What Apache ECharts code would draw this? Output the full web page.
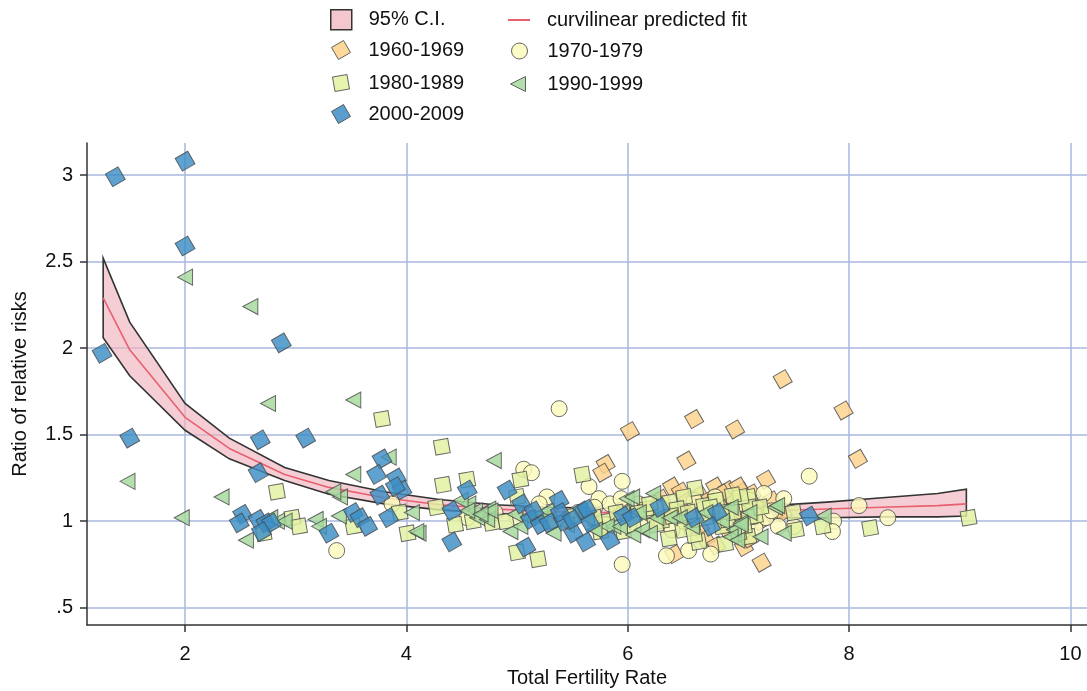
<!DOCTYPE html>
<html>
<head>
<meta charset="utf-8">
<script src="https://cdn.jsdelivr.net/npm/echarts@6/dist/echarts.min.js"></script>
<style>html,body{margin:0;padding:0;background:#fff}#c{width:1087px;height:691px}</style>
</head>
<body>
<div id="c"></div>
<script>
// ---- data ----
const xTicks = [2, 4, 6, 8, 10];
const yTicks = [0.5, 1, 1.5, 2, 2.5, 3];

const ciX  = [1.26, 1.5, 2.0, 2.4, 2.9, 3.3, 3.8, 4.3, 4.8, 5.3, 5.8, 6.3, 6.8, 7.3, 7.8, 8.3, 8.8, 9.06];
const ciHi = [2.52, 2.15, 1.68, 1.48, 1.31, 1.235, 1.17, 1.125, 1.095, 1.08, 1.075, 1.075, 1.08, 1.09, 1.11, 1.135, 1.16, 1.185];
const fitY = [2.29, 1.99, 1.60, 1.42, 1.27, 1.195, 1.135, 1.095, 1.07, 1.055, 1.05, 1.05, 1.055, 1.06, 1.07, 1.08, 1.09, 1.10];
const ciLo = [2.06, 1.84, 1.525, 1.36, 1.235, 1.155, 1.10, 1.065, 1.045, 1.03, 1.025, 1.02, 1.02, 1.02, 1.02, 1.025, 1.025, 1.03];

const s1960 = [[7.40,1.82],[7.95,1.64],[8.08,1.36],[6.97,1.53],[7.25,1.24],[7.21,0.76],[6.79,1.20],[6.90,1.18],[7.03,1.17],[7.12,1.16],[7.05,0.85],[6.60,1.59],[6.53,1.35],[6.02,1.52],[6.40,1.20],[6.42,0.81],[6.48,1.17],[5.80,1.33],[5.77,1.28],[6.60,1.10],[6.85,1.08],[7.00,1.03],[7.30,1.12],[6.30,1.13],[6.70,0.90],[7.10,0.90],[7.32,1.05],[6.95,1.12],[6.65,1.15],
  [6.45,1.05],[6.55,1.12],[6.75,1.13],[6.85,1.16],[7.00,1.20],[7.15,1.10],[6.35,1.02],[6.90,0.95],[7.20,1.00],[6.65,0.97],[7.05,1.07],[6.25,1.08],[5.95,1.07],[7.40,1.05],[6.80,0.86]];
const s1970 = [[5.38,1.65],[5.06,1.30],[5.13,1.28],[5.27,1.14],[5.65,1.20],[5.74,1.13],[5.84,1.10],[5.95,1.23],[5.94,1.13],[5.95,0.75],[3.87,1.10],[6.35,0.80],[6.55,0.83],[6.75,0.81],[3.37,0.83],[7.23,1.16],[7.15,0.96],[6.79,1.14],[7.64,1.26],[8.09,1.09],[8.35,1.02],[7.86,1.00],[7.85,0.94],[7.41,1.13],[7.50,0.97],[7.36,0.97],[5.00,1.02],[5.20,1.10],[4.80,1.05],[6.20,1.05],[6.50,1.00],[6.90,1.05],[7.00,1.10],[6.60,1.12],[7.25,1.02],[5.55,1.05],[6.10,1.10],[6.40,0.95],[7.05,0.95],
  [6.70,1.08],[7.10,1.12],[6.30,1.08],[5.70,1.08],[5.80,0.98],[6.95,0.98],[7.30,1.06],[4.55,1.02],[6.15,0.97]];
const s1980 = [[2.83,1.17],[2.71,0.93],[2.97,1.02],[3.03,0.97],[3.78,1.59],[4.32,1.43],[4.33,1.21],[4.55,1.24],[3.94,1.05],[4.27,1.08],[4.44,0.98],[4.01,0.93],[3.52,0.97],[5.03,1.24],[5.59,1.27],[5.00,0.82],[5.19,0.78],[5.81,1.00],[5.75,0.94],[5.96,0.94],[6.61,1.19],[6.51,1.14],[6.38,1.11],[6.16,1.07],[6.69,1.09],[6.37,0.90],[6.64,0.88],[6.88,0.87],[7.09,1.14],[7.10,1.08],[7.10,1.02],[7.09,0.91],[6.85,0.97],[6.90,1.01],[7.02,1.14],[6.57,0.97],[7.50,1.05],[7.52,0.95],[7.76,0.97],[8.19,0.96],[9.08,1.02],[5.00,1.14],[4.77,0.99],[6.10,1.05],[6.30,1.00],[6.45,1.07],[6.70,1.02],[6.80,1.12],[6.95,1.05],[7.15,1.03],[6.50,0.95],[6.25,0.98],[5.90,1.05],[5.70,1.02],
  [6.55,1.05],[6.75,1.08],[6.95,1.15],[7.05,0.97],[7.20,1.08],[6.40,1.03],[6.20,1.10],[6.85,1.05],[7.00,0.93],[6.60,0.92],[5.50,1.03],[5.30,1.00],[4.90,1.00],[4.60,1.00],[6.05,0.98]];
const s1990 = [[2.00,2.41],[2.59,2.24],[2.75,1.68],[3.52,1.70],[1.48,1.23],[2.33,1.14],[1.97,1.02],[2.55,0.89],[2.83,1.00],[2.90,1.00],[3.18,1.01],[3.21,0.97],[2.77,1.02],[3.52,1.27],[3.84,1.37],[3.40,1.14],[3.34,1.17],[3.39,1.03],[4.05,1.05],[4.11,0.93],[4.09,0.94],[4.56,1.10],[4.62,1.06],[4.64,1.02],[4.79,1.35],[4.74,1.07],[4.73,1.01],[4.94,0.94],[5.03,0.97],[4.98,1.04],[5.21,1.04],[5.27,1.06],[5.33,0.93],[5.99,1.13],[5.87,0.97],[5.81,0.97],[5.93,0.97],[5.63,1.02],[4.49,1.12],[4.55,1.06],[4.76,1.06],[4.67,1.04],[6.04,1.14],[6.23,1.16],[6.05,0.92],[6.13,0.95],[6.20,0.93],[6.26,1.02],[6.38,1.02],[6.47,1.02],[6.58,0.97],[6.93,1.08],[6.96,0.95],[7.02,0.99],[7.20,0.91],[7.33,1.08],[6.93,0.91],[7.77,1.03],[7.41,0.93],[7.35,1.09],[6.99,0.89],[7.02,0.98],
  [5.10,1.02],[5.45,0.98],[5.70,0.95],[6.10,1.05],[6.70,1.05],[6.85,1.00],[7.10,1.05],[5.95,1.05]];
const s2000 = [[1.37,2.99],[2.00,3.08],[2.00,2.59],[1.25,1.97],[1.50,1.48],[2.87,2.03],[2.68,1.47],[3.09,1.48],[2.66,1.28],[2.52,1.04],[2.49,0.99],[2.66,1.01],[2.73,0.99],[2.78,0.99],[2.69,0.94],[3.30,0.93],[3.78,1.36],[3.73,1.27],[3.91,1.25],[3.96,1.18],[3.90,1.20],[3.76,1.15],[3.52,1.05],[3.58,1.02],[3.65,0.97],[3.84,1.02],[4.41,1.06],[4.55,1.18],[4.41,0.88],[4.91,1.18],[5.04,1.10],[5.12,1.01],[5.21,0.98],[5.29,0.99],[5.38,1.12],[5.42,1.00],[5.51,0.93],[5.62,0.88],[5.59,1.06],[5.63,1.07],[5.66,0.99],[5.84,0.89],[5.96,1.03],[5.08,0.85],[5.15,1.06],[5.39,1.05],[5.50,1.01],[6.04,1.02],[6.29,1.08],[6.60,1.02],[6.81,1.05],[6.75,0.97],[7.64,1.03]];

// ---- chart ----
const FONT = '"Liberation Sans", Arial, sans-serif';
const FS = 20;
const chart = echarts.init(document.getElementById('c'), null, {renderer: 'canvas'});
const edge = '#4a4a4a';

const C60 = '#fcd28a', C70 = '#fdfbbd', C80 = '#e2f2a0', C90 = '#a5d99c', C00 = '#3c8dc5';
const ICON_DIAMOND = 'path://M63.4,0L100,63.4L36.6,100L0,36.6Z';
const ICON_SQUARE10 = 'path://M85,0L100,85L15,100L0,15Z';
const ICON_TRI_LEFT = 'path://M0,50L100,0L100,100Z';

function scat(name, data, symbol, size, rot, color, z) {
  return {
    name, type: 'scatter', data, symbol, symbolSize: size, symbolRotate: rot, z,
    itemStyle: {color, opacity: 0.82, borderColor: edge, borderWidth: 1},
    emphasis: {disabled: true}
  };
}

function legendOne(item, left, top, w, h, pad) {
  return {
    data: [item], left, top, orient: 'horizontal', padding: 0,
    itemWidth: w, itemHeight: h, selectedMode: false,
    textStyle: {fontFamily: FONT, fontSize: FS, color: '#111', padding: [0, 0, 0, pad]}
  };
}
function mk(name, icon, color) {
  return {name, icon, itemStyle: {color, opacity: 0.85, borderColor: edge, borderWidth: 1}};
}

const option = {
  animation: false,
  backgroundColor: '#fff',
  grid: {left: 87, right: 0, top: 143, bottom: 66, containLabel: false, outerBoundsMode: 'none'},
  legend: [
    legendOne({name: '95% C.I.', icon: 'rect', itemStyle: {color: '#f4c7ce', borderColor: '#333', borderWidth: 1.5}}, 330, 9, 21, 20, 12),
    legendOne({name: 'curvilinear predicted fit', icon: 'rect', itemStyle: {color: '#e8606e', borderWidth: 0}}, 508, 10, 22, 2, 12),
    legendOne(mk('1960-1969', ICON_DIAMOND, C60), 331, 40, 19, 19, 13),
    legendOne(mk('1970-1979', 'circle', C70), 511, 41, 16, 16, 15),
    legendOne(mk('1980-1989', ICON_SQUARE10, C80), 332, 73, 17, 17, 14),
    legendOne(mk('1990-1999', ICON_TRI_LEFT, C90), 510, 74, 15, 16, 17),
    legendOne(mk('2000-2009', ICON_DIAMOND, C00), 331, 104, 19, 19, 13)
  ],
  xAxis: {
    type: 'value', min: 1.114, max: 10.15,
    name: 'Total Fertility Rate', nameLocation: 'middle', nameGap: 37,
    nameTextStyle: {fontFamily: FONT, fontSize: FS, color: '#111'},
    axisLine: {show: true, onZero: false, lineStyle: {color: '#333', width: 1.5}},
    axisTick: {show: true, length: 7, customValues: xTicks, lineStyle: {color: '#333', width: 1.5}},
    axisLabel: {customValues: xTicks, fontFamily: FONT, fontSize: FS, color: '#111', margin: 19},
    splitLine: {show: true, lineStyle: {color: '#a9b7de', width: 1.5}}
  },
  yAxis: {
    type: 'value', min: 0.4, max: 3.185,
    name: 'Ratio of relative risks', nameLocation: 'middle', nameGap: 57,
    nameTextStyle: {fontFamily: FONT, fontSize: FS, color: '#111'},
    axisLine: {show: true, onZero: false, lineStyle: {color: '#333', width: 1.5}},
    axisTick: {show: true, length: 7, customValues: yTicks, lineStyle: {color: '#333', width: 1.5}},
    axisLabel: {customValues: yTicks, fontFamily: FONT, fontSize: FS, color: '#111', margin: 14,
      formatter: v => (v === 0.5 ? '.5' : String(v))},
    splitLine: {show: true, lineStyle: {color: '#a9b7de', width: 1.5}}
  },
  series: [
    {
      name: '95% C.I.', type: 'custom', z: 2,
      data: ciX.map((x, i) => [x, ciLo[i], ciHi[i]]),
      encode: {x: 0, y: [1, 2]},
      itemStyle: {color: '#f4c7ce'},
      renderItem: function (params, api) {
        if (params.dataIndex !== 0) return null;
        const pts = [];
        for (let i = 0; i < ciX.length; i++) pts.push(api.coord([ciX[i], ciHi[i]]));
        for (let i = ciX.length - 1; i >= 0; i--) pts.push(api.coord([ciX[i], ciLo[i]]));
        return {type: 'polygon', shape: {points: pts},
          style: {fill: 'rgba(240,180,190,0.65)', stroke: '#333', lineWidth: 1.6, lineJoin: 'miter'}};
      }
    },
    {
      name: 'curvilinear predicted fit', type: 'line', z: 3, symbol: 'none',
      data: ciX.map((x, i) => [x, fitY[i]]),
      lineStyle: {color: '#e8606e', width: 1.6}, itemStyle: {color: '#e8606e'}
    },
    scat('1960-1969', s1960, 'rect', 14, 30, C60, 4),
    scat('1970-1979', s1970, 'circle', 16, 0, C70, 5),
    scat('1980-1989', s1980, 'rect', 14.5, 10, C80, 6),
    scat('1990-1999', s1990, 'triangle', [16, 15], 90, C90, 7),
    scat('2000-2009', s2000, 'rect', 14.5, 30, C00, 8)
  ]
};
chart.setOption(option);
</script>
</body>
</html>
